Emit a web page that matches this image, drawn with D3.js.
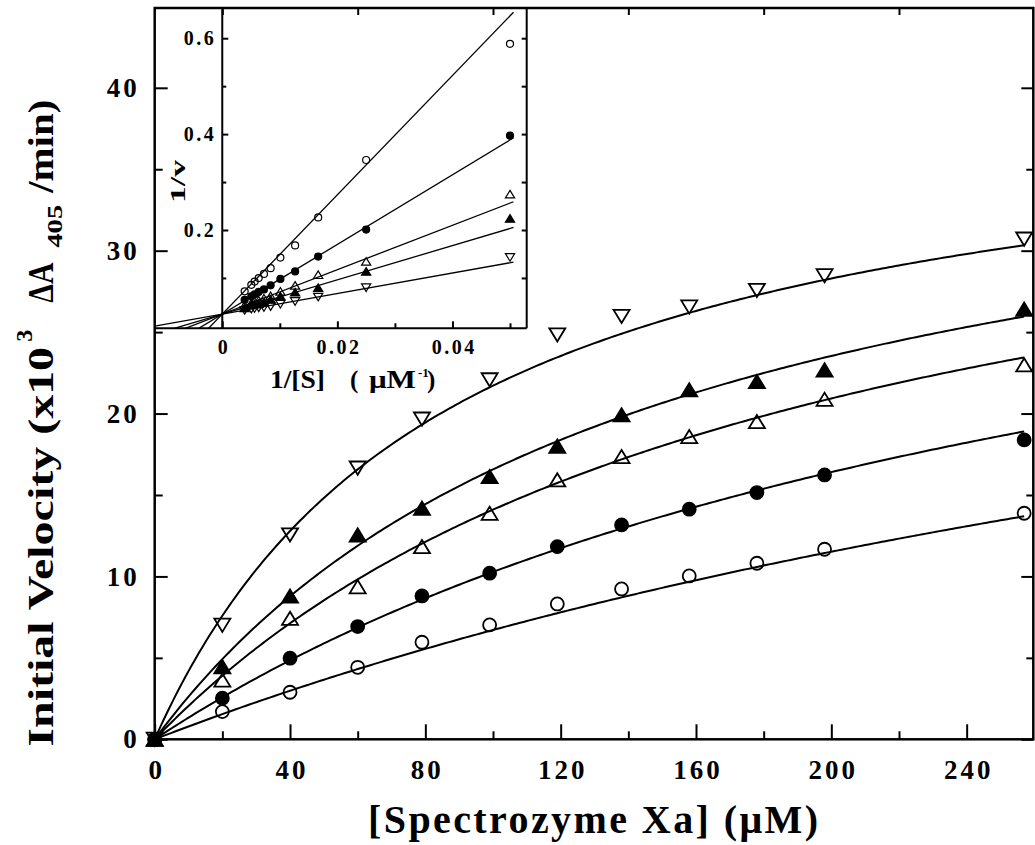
<!DOCTYPE html>
<html>
<head>
<meta charset="utf-8">
<script src="https://cdn.jsdelivr.net/npm/d3@7"></script>
<style>
  body { margin: 0; background: #fff; }
  text { font-family: "Liberation Serif", "Times New Roman", serif; font-weight: bold; fill: #000; }
</style>
</head>
<body>
<svg id="chart" width="1035" height="845"></svg>
<script>
// [Spectrozyme Xa] (uM)
var conc = [0, 20, 40, 60, 79, 99, 119, 138, 158, 178, 198, 257];

// initial velocity (x10^3 dA405/min), one array per symbol
var vDownOpen   = [0, 7.00, 12.55, 16.65, 19.66, 22.07, 24.83, 25.96, 26.54, 27.56, 28.46, 30.71];
var vUpFilled   = [0, 4.46, 8.80, 12.55, 14.19, 16.13, 18.00, 19.92, 21.46, 21.97, 22.68, 26.41];
var vUpOpen     = [0, 3.64, 7.43, 9.37, 11.83, 13.88, 15.93, 17.36, 18.59, 19.51, 20.88, 22.99];
var vCircFilled = [0, 2.52, 4.98, 6.92, 8.80, 10.20, 11.83, 13.16, 14.13, 15.15, 16.23, 18.38];
var vCircOpen   = [0, 1.70, 2.89, 4.42, 5.96, 7.02, 8.31, 9.23, 10.03, 10.81, 11.67, 13.88];

// Michaelis-Menten fit: common Vmax, Km per series (same order as above)
var vmaxFit = 40.6;
var kmFit = [87, 145, 188, 295, 505];
var fitEnd = 257;          // main curves drawn 0..fitEnd
var insetFitEnd = 0.0506;  // double reciprocal lines drawn up to 1/[S] = this

var xTicksMain = [0, 40, 80, 120, 160, 200, 240];
var xTicksMinor = [20, 60, 100, 140, 180, 220];
var yTicksMain = [0, 10, 20, 30, 40];
var yTicksMinor = [5, 15, 25, 35];
var insetXLabels = [0, 0.02, 0.04];
var insetXTicks = [0.01, 0.03, 0.05];
var insetYLabels = [0.2, 0.4, 0.6];
var insetYTicks = [0.1, 0.3, 0.5];

var series = [
  {v: vDownOpen,   shape: "down",   filled: false, km: kmFit[0]},
  {v: vUpFilled,   shape: "up",     filled: true,  km: kmFit[1]},
  {v: vUpOpen,     shape: "up",     filled: false, km: kmFit[2]},
  {v: vCircFilled, shape: "circle", filled: true,  km: kmFit[3]},
  {v: vCircOpen,   shape: "circle", filled: false, km: kmFit[4]}
];

var svg = d3.select("#chart");

var x = d3.scaleLinear().domain([0, 259.7]).range([154.7, 1033.3]);
var y = d3.scaleLinear().domain([0, 44.9]).range([739.3, 8]);

// marker path, s = half width
function markerPath(shape, s){
  if (shape == "circle") {
    return d3.symbol(d3.symbolCircle, Math.PI * s * s)();
  }
  var h = s * 1.65;
  if (shape == "up") return "M0," + (-h/2) + "L" + s + "," + (h/2) + "L" + (-s) + "," + (h/2) + "Z";
  return "M0," + (h/2) + "L" + s + "," + (-h/2) + "L" + (-s) + "," + (-h/2) + "Z";
}

function drawMarkers(g, pts, shape, filled, s, sw){
  g.selectAll(null).data(pts).enter().append("path")
    .attr("transform", function(d){ return "translate(" + d[0] + "," + d[1] + ")"; })
    .attr("d", markerPath(shape, s))
    .attr("fill", filled ? "#000" : "none")
    .attr("stroke", "#000")
    .attr("stroke-width", sw);
}

// put a text piece at x0 and stretch it (glyphs) to the wanted length
function stretchText(g, str, x0, y0, size, len){
  var t = g.append("text").attr("x", x0).attr("y", y0).attr("font-size", size).text(str);
  var w = t.node().getComputedTextLength();
  if (len && w > 0) {
    var k = len / w;
    t.attr("transform", "translate(" + x0 + ",0) scale(" + k + ",1) translate(" + (-x0) + ",0)");
  }
  return t;
}

// spread letters so the text covers the wanted length
function spreadText(g, str, x0, y0, size, len){
  var t = g.append("text").attr("x", x0).attr("y", y0).attr("font-size", size).text(str);
  var w = t.node().getComputedTextLength();
  if (len && str.length > 1) t.attr("letter-spacing", (len - w) / (str.length - 1));
  return t;
}

// ---------- main plot ----------
var main = svg.append("g");

// fitted curves
series.forEach(function(s){
  var pts = d3.range(0, fitEnd + 0.5, 1).map(function(c){
    return [x(c), y(vmaxFit * c / (s.km + c))];
  });
  main.append("path")
    .attr("d", d3.line()(pts))
    .attr("fill", "none")
    .attr("stroke", "#000")
    .attr("stroke-width", 2);
});

series.forEach(function(s){
  var pts = conc.map(function(c, i){ return [x(c), y(s.v[i])]; });
  drawMarkers(main, pts, s.shape, s.filled, s.shape == "circle" ? 6.5 : 8, 1.8);
});

// frame
main.append("rect")
  .attr("x", x.range()[0]).attr("y", y.range()[1])
  .attr("width", x.range()[1] - x.range()[0])
  .attr("height", y.range()[0] - y.range()[1])
  .attr("fill", "none").attr("stroke", "#000").attr("stroke-width", 2.5);

function styleAxis(g){
  g.select(".domain").remove();
  g.selectAll(".tick line").attr("stroke", "#000").attr("stroke-width", 2);
}

var xAxisG = main.append("g").attr("transform", "translate(0," + y(0) + ")")
  .call(d3.axisBottom(x).tickValues(xTicksMain).tickSize(-15).tickPadding(21));
xAxisG.call(styleAxis);
xAxisG.selectAll("text").attr("font-size", 27).attr("letter-spacing", 3)
  .attr("dx", 1.5).attr("font-family", null);
main.append("g").attr("transform", "translate(0," + y(0) + ")")
  .call(d3.axisBottom(x).tickValues(xTicksMinor).tickSize(-8).tickFormat(""))
  .call(styleAxis);

var yAxisG = main.append("g").attr("transform", "translate(" + x(0) + ",0)")
  .call(d3.axisLeft(y).tickValues(yTicksMain).tickSize(-13).tickPadding(15));
yAxisG.call(styleAxis);
yAxisG.selectAll("text").attr("font-size", 27).attr("letter-spacing", 3).attr("font-family", null);
main.append("g").attr("transform", "translate(" + x(0) + ",0)")
  .call(d3.axisLeft(y).tickValues(yTicksMinor).tickSize(-8).tickFormat(""))
  .call(styleAxis);

// mirrored ticks on top and right
main.append("g").attr("transform", "translate(0," + y.range()[1] + ")")
  .call(d3.axisTop(x).tickValues(xTicksMinor).tickSize(-7).tickFormat(""))
  .call(styleAxis);
main.append("g").attr("transform", "translate(" + x.range()[1] + ",0)")
  .call(d3.axisRight(y).tickValues(yTicksMain).tickSize(-12).tickFormat(""))
  .call(styleAxis);
main.append("g").attr("transform", "translate(" + x.range()[1] + ",0)")
  .call(d3.axisRight(y).tickValues(yTicksMinor).tickSize(-7).tickFormat(""))
  .call(styleAxis);

// axis titles
spreadText(main, "[Spectrozyme Xa] (\u03bcM)", 368, 833, 40, 450);

var yTitle = main.append("g").attr("transform", "translate(53,746.7) rotate(-90)");
stretchText(yTitle, "Initial Velocity (x10", 0, 0, 36, 400);
stretchText(yTitle, "3", 405, -21, 24, 0);
stretchText(yTitle, "\u0394A", 444, 0, 36, 40);
stretchText(yTitle, "405", 499, 9, 22, 43);
stretchText(yTitle, "/min)", 554, 0, 36, 93);

// ---------- inset: double reciprocal plot ----------
var ix = d3.scaleLinear().domain([-0.01174, 0.0529]).range([154.7, 526.7]);
var iy = d3.scaleLinear().domain([-0.005, 0.663]).range([328.3, 8]);
var inset = svg.append("g");

svg.append("defs").append("clipPath").attr("id", "insetClip")
  .append("rect")
  .attr("x", ix.range()[0]).attr("y", iy.range()[1])
  .attr("width", ix.range()[1] - ix.range()[0])
  .attr("height", iy.range()[0] - iy.range()[1]);

var lines = inset.append("g").attr("clip-path", "url(#insetClip)");
series.forEach(function(s){
  var a = 1 / vmaxFit, b = s.km / vmaxFit;
  var ends = [ix.domain()[0], insetFitEnd];
  lines.append("path")
    .attr("d", d3.line()(ends.map(function(t){ return [ix(t), iy(a + b * t)]; })))
    .attr("fill", "none").attr("stroke", "#000").attr("stroke-width", 1.3);
});

series.forEach(function(s){
  var pts = [];
  conc.forEach(function(c, i){
    if (c > 0) pts.push([ix(1 / c), iy(1 / s.v[i])]);
  });
  drawMarkers(inset, pts, s.shape, s.filled, s.shape == "circle" ? 3.5 : 4.6, 1.2);
});

// inset frame: inner y axis at 0, bottom, right
inset.append("line")
  .attr("x1", ix(0)).attr("x2", ix(0)).attr("y1", iy.range()[0]).attr("y2", iy.range()[1])
  .attr("stroke", "#000").attr("stroke-width", 2);
inset.append("line")
  .attr("x1", ix.range()[0]).attr("x2", ix.range()[1]).attr("y1", iy.range()[0]).attr("y2", iy.range()[0])
  .attr("stroke", "#000").attr("stroke-width", 2);
inset.append("line")
  .attr("x1", ix.range()[1]).attr("x2", ix.range()[1]).attr("y1", iy.range()[0]).attr("y2", iy.range()[1])
  .attr("stroke", "#000").attr("stroke-width", 2);

var ixAxis = inset.append("g").attr("transform", "translate(0," + iy.range()[0] + ")")
  .call(d3.axisBottom(ix).tickValues(insetXLabels).tickSize(-7).tickPadding(12)
    .tickFormat(function(d){ return d == 0 ? "0" : d3.format(".2f")(d); }));
ixAxis.call(styleAxis);
ixAxis.selectAll("text").attr("font-size", 20).attr("letter-spacing", 2.5).attr("dx", 1.2).attr("font-family", null);
inset.append("g").attr("transform", "translate(0," + iy.range()[0] + ")")
  .call(d3.axisBottom(ix).tickValues(insetXTicks).tickSize(-5).tickFormat(""))
  .call(styleAxis);

var iyAxis = inset.append("g").attr("transform", "translate(" + ix(0) + ",0)")
  .call(d3.axisLeft(iy).tickValues(insetYLabels).tickSize(-6).tickPadding(6)
    .tickFormat(d3.format(".1f")));
iyAxis.call(styleAxis);
iyAxis.selectAll("text").attr("font-size", 20).attr("letter-spacing", 2.5).attr("font-family", null);
inset.append("g").attr("transform", "translate(" + ix(0) + ",0)")
  .call(d3.axisLeft(iy).tickValues(insetYTicks).tickSize(-4).tickFormat(""))
  .call(styleAxis);
inset.append("g").attr("transform", "translate(" + ix.range()[1] + ",0)")
  .call(d3.axisRight(iy).tickValues(insetYLabels.concat(insetYTicks)).tickSize(-5).tickFormat(""))
  .call(styleAxis);

// inset x title, pieces placed as in the figure
stretchText(inset, "1/[S]", 270, 388, 25, 55);
stretchText(inset, "(", 350, 388, 25, 0);
stretchText(inset, "\u03bcM", 369, 388, 25, 47);
stretchText(inset, "-1", 418, 377, 13, 0);
stretchText(inset, ")", 427, 388, 25, 0);

var iyTitle = inset.append("g").attr("transform", "translate(185,203) rotate(-90)");
stretchText(iyTitle, "1/v", 0, 0, 21, 43);
</script>
</body>
</html>
